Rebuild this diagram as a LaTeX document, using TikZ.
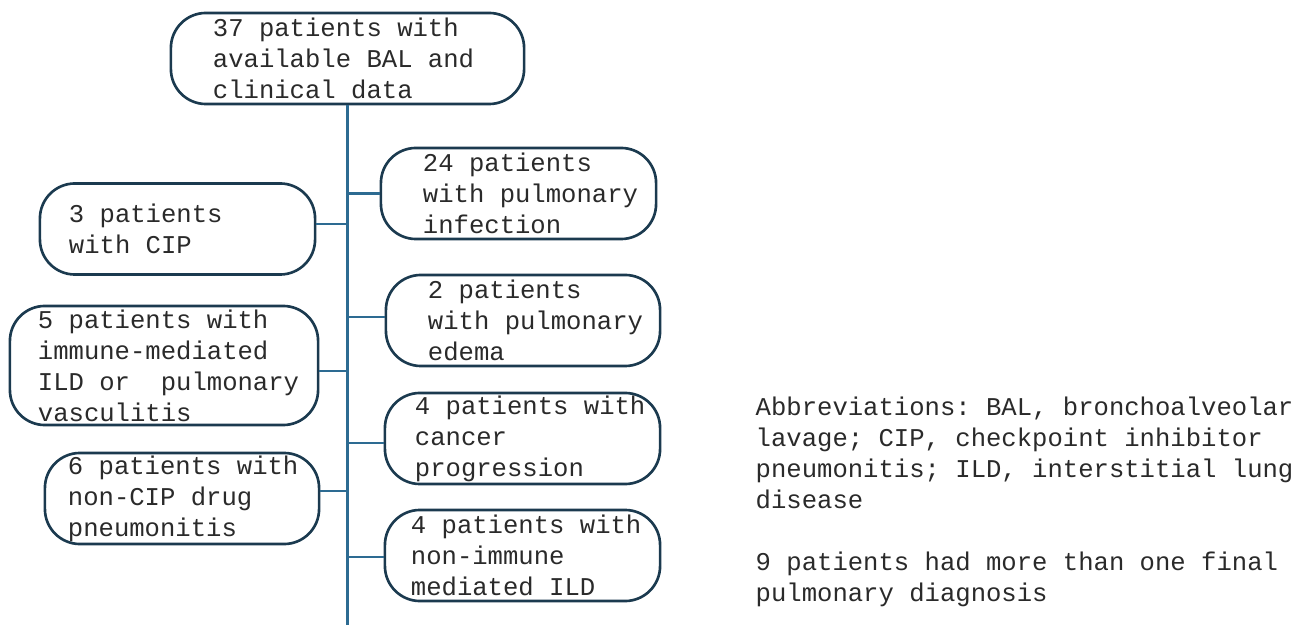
\documentclass[tikz,border=0pt]{standalone}
\usepackage{fontspec}
\setmonofont{Liberation Mono}
\definecolor{boxline}{HTML}{1B3A4F}
\definecolor{trunkline}{HTML}{2D6B92}
\definecolor{txt}{HTML}{2A2A2A}
\newcommand{\flowfont}{\ttfamily\fontsize{7.28}{8.82}\selectfont}
\tikzset{
  box/.style 2 args={draw=boxline,line width=0.75pt,rounded corners=3.5mm,
    align=left,inner xsep=0pt,inner ysep=0pt,text width=#1,minimum height=0.91cm,
    text=txt,font=\flowfont,
    execute at begin node={\flowfont\spaceskip=0pt\xspaceskip=0pt\leftskip=#2\relax}},
  branch/.style={draw=trunkline,line width=0.6pt}
}
\begin{document}
\begin{tikzpicture}[x=0.01cm,y=-0.01cm,line join=round,font=\flowfont]
\useasboundingbox (0,0) rectangle (1304,625);

\node[box={3.53cm}{4.2mm}] (all) at (347.5,58.5) {37 patients with\\available BAL and\\clinical data};
\node[box={2.75cm}{4.2mm}] (inf) at (518.5,193.5) {24 patients\\with pulmonary\\infection};
\node[box={2.75cm}{2.9mm}] (cip) at (177.5,229) {3 patients\\with CIP};
\node[box={2.74cm}{4.2mm}] (ede) at (523,320.5) {2 patients\\with pulmonary\\edema};
\node[box={3.08cm}{2.8mm},minimum height=1.19cm] (ild) at (164,365.5) {5 patients with\\immune-mediated\\ILD or\ \ pulmonary\\vasculitis};
\node[box={2.75cm}{3.0mm}] (can) at (522.5,438.5) {4 patients with\\cancer\\progression};
\node[box={2.74cm}{2.3mm}] (drug) at (182,498.5) {6 patients with\\non-CIP drug\\pneumonitis};
\node[box={2.75cm}{2.6mm}] (nim) at (522.5,555.5) {4 patients with\\non-immune\\mediated ILD};

\coordinate (end) at (all.south |- 0,625);
\draw[branch] (all.south) -- (end);
\foreach \b/\d in {inf/0,ede/-3.5,can/4.5,nim/1.5} {
  \path (\b.west) ++(0,\d) coordinate (\b-tip);
  \draw[branch] (\b-tip) -- (\b-tip -| all.south);
}
\foreach \b/\d in {cip/-5,ild/5.5,drug/-7.5} {
  \path (\b.east) ++(0,\d) coordinate (\b-tip);
  \draw[branch] (\b-tip) -- (\b-tip -| all.south);
}

\node[anchor=north west,align=left,inner sep=0pt,text=txt] (abbr) at (755,396)
  {Abbreviations: BAL, bronchoalveolar\\lavage; CIP, checkpoint inhibitor\\pneumonitis; ILD, interstitial lung\\disease\\[8.82pt]9 patients had more than one final\\pulmonary diagnosis};
\end{tikzpicture}
\end{document}
